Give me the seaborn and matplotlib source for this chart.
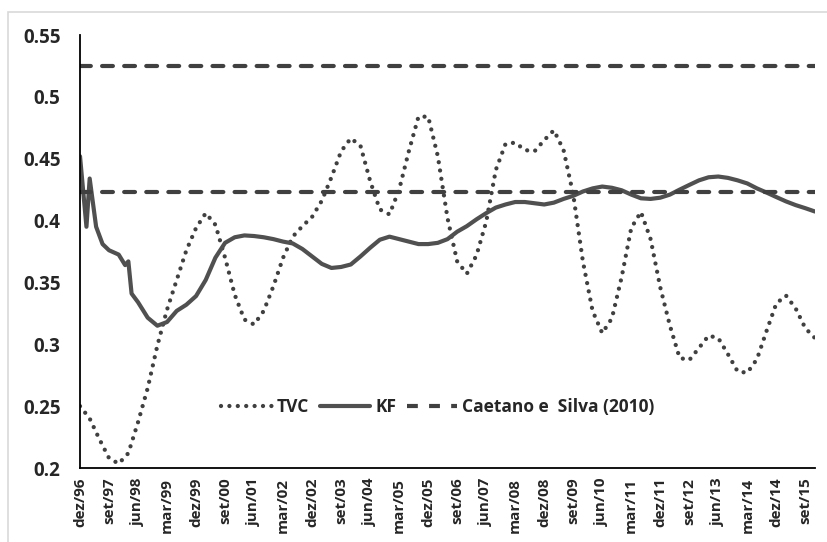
import matplotlib
matplotlib.use("Agg")
import matplotlib.pyplot as plt
from matplotlib.patches import Rectangle
import seaborn as sns
import pandas as pd

# months counted from dez/96 (0) to dez/15 (228)
tvc_month = list(range(0, 229, 3))
tvc_value = [0.250, 0.240, 0.2234, 0.208, 0.2035, 0.212, 0.237, 0.2646, 0.299, 0.328,
             0.352, 0.376, 0.394, 0.406, 0.3966, 0.370, 0.340, 0.320, 0.316, 0.327,
             0.347, 0.370, 0.387, 0.3955, 0.403, 0.416, 0.435, 0.456, 0.4665, 0.4605,
             0.432, 0.409, 0.405, 0.425, 0.456, 0.484, 0.484, 0.452, 0.402, 0.367,
             0.357, 0.372, 0.399, 0.441, 0.462, 0.463, 0.457, 0.456, 0.465, 0.473,
             0.457, 0.421, 0.367, 0.327, 0.309, 0.321, 0.354, 0.394, 0.407, 0.385,
             0.346, 0.315, 0.289, 0.2872, 0.297, 0.307, 0.305, 0.292, 0.278, 0.277,
             0.288, 0.311, 0.333, 0.3394, 0.329, 0.313, 0.305]

kf_month = [0, 2, 3, 5, 7, 9, 12, 14, 15, 16] + list(range(18, 229, 3))
kf_value = [0.452, 0.395, 0.434, 0.395, 0.381, 0.376, 0.3725, 0.364, 0.367, 0.341,
            0.334, 0.3215, 0.315, 0.318, 0.327, 0.332, 0.339, 0.352, 0.370, 0.382,
            0.3865, 0.388, 0.3875, 0.3865, 0.385, 0.383, 0.3815, 0.377, 0.371, 0.365,
            0.3617, 0.3625, 0.3645, 0.371, 0.378, 0.3845, 0.387, 0.385, 0.383, 0.381,
            0.381, 0.382, 0.385, 0.391, 0.3955, 0.401, 0.406, 0.4105, 0.413, 0.415,
            0.415, 0.414, 0.413, 0.4145, 0.4175, 0.420, 0.4235, 0.426, 0.4275, 0.4265,
            0.4245, 0.421, 0.418, 0.4175, 0.4185, 0.421, 0.425, 0.4288, 0.4325, 0.435,
            0.4356, 0.4345, 0.4325, 0.430, 0.426, 0.4226, 0.419, 0.4155, 0.4125, 0.410,
            0.4073]

caetano_levels = [0.423, 0.525]

tick_labels = ["dez/96", "set/97", "jun/98", "mar/99", "dez/99", "set/00", "jun/01",
               "mar/02", "dez/02", "set/03", "jun/04", "mar/05", "dez/05", "set/06",
               "jun/07", "mar/08", "dez/08", "set/09", "jun/10", "mar/11", "dez/11",
               "set/12", "jun/13", "mar/14", "dez/14", "set/15"]
y_ticks = [0.2, 0.25, 0.3, 0.35, 0.4, 0.45, 0.5, 0.55]

sns.set_style("white")
plt.rcParams['font.family'] = ['Open Sans', 'DejaVu Sans']
plt.rcParams['font.weight'] = 'bold'

df_tvc = pd.DataFrame({"month": tvc_month, "value": tvc_value})
df_kf = pd.DataFrame({"month": kf_month, "value": kf_value})

fig = plt.figure(figsize=(8.27, 5.42), dpi=100)
ax = fig.add_axes([80 / 827, 1 - 468 / 542, 735 / 827, 433 / 542])

sns.lineplot(data=df_tvc, x="month", y="value", ax=ax, color="#404040", lw=3.1,
             linestyle=(0, (0.001, 1.95)), dash_capstyle="round", label="TVC")
sns.lineplot(data=df_kf, x="month", y="value", ax=ax, color="#505050", lw=3.0,
             label="KF")
ax.hlines(caetano_levels, 0, 228, colors="#404040", lw=3.0,
          linestyles=[(0, (2.6, 2.7))], capstyle="round",
          label="Caetano e  Silva (2010)")
for coll in ax.collections:
    coll.set_capstyle("round")

ax.set_xlim(0, 228)
ax.set_ylim(0.2, 0.55)
ax.set_xticks(range(0, 228, 9))
ax.set_xticklabels(tick_labels, rotation=90, fontsize=11, fontweight="bold")
ax.set_yticks(y_ticks)
ax.set_yticklabels([f"{v:g}" for v in y_ticks], fontsize=13.5, fontweight="bold")
ax.tick_params(axis="y", length=0, pad=14)
ax.tick_params(axis="x", length=4, width=1, color="black", direction="out", pad=3)
ax.set_xlabel("")
ax.set_ylabel("")

sns.despine(ax=ax)
for s in ["left", "bottom"]:
    ax.spines[s].set_color("black")
    ax.spines[s].set_linewidth(1.3)

leg = ax.legend(loc="center", bbox_to_anchor=(0.487, 0.141), ncol=3, frameon=False,
                prop={"weight": "bold", "size": 12.5}, handlelength=2.9,
                columnspacing=0.6, handletextpad=0.3)

fig.patches.append(Rectangle((8 / 827, -0.05), 1.1, 1 - 12 / 542 + 0.05,
                             transform=fig.transFigure, fill=False,
                             edgecolor="#d9d9d9", lw=1.2))

plt.savefig("out.png", dpi=100)
